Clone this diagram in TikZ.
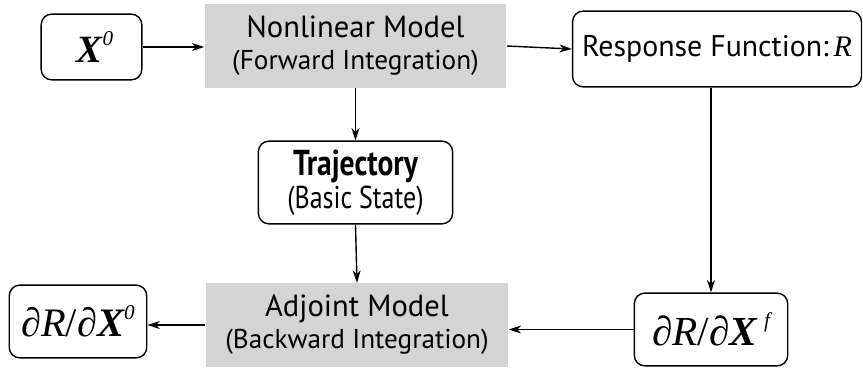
\documentclass[tikz,border=0pt]{standalone}
\usepackage{fontspec}
\usepackage{tikz}
\usetikzlibrary{arrows.meta}
\setmainfont{PT Sans}
\newfontfamily\narrowfont[FakeStretch=0.82]{PT Sans}
\newfontfamily\timesfont{Liberation Serif}
\definecolor{modelgray}{RGB}{212,212,212}
\newcommand{\bX}{{\bfseries\itshape X}}
\newcommand{\supit}[1]{\raisebox{0.42em}{\itshape\fontsize{12}{12}\selectfont #1}}
\tikzset{
	modelbox/.style={fill=modelgray, align=center, inner sep=0pt, font=\fontsize{17.4}{18.1}\selectfont},
	roundbox/.style={draw, line width=0.8pt, rounded corners=6pt, align=center, inner sep=0pt},
	flow/.style={-{Stealth[length=7pt, width=4.5pt, inset=2pt]}, line width=0.8pt},
}

\begin{document}
\begin{tikzpicture}[x=0.02cm, y=-0.02cm]
			\useasboundingbox (0,0) rectangle (863,369);
			\node[roundbox, minimum width=101*0.567pt, minimum height=66*0.567pt] (x0) at (91.5,47)
				{\timesfont\fontsize{22}{22}\selectfont\hspace{4pt}\bX\supit{0}};
			\node[modelbox, minimum width=303*0.567pt, minimum height=84*0.567pt] (nonlin) at (355.5,46)
				{Nonlinear Model\\ {\fontsize{15.5}{18.1}\selectfont (Forward Integration)}};
			\node[roundbox, minimum width=290*0.567pt, minimum height=76*0.567pt] (resp) at (717,49)
				{\fontsize{17}{17}\selectfont Response Function:\,{\timesfont\itshape R}};
			\node[roundbox, minimum width=195*0.567pt, minimum height=83*0.567pt, font=\narrowfont\fontsize{18}{18.7}\selectfont] (traj) at (355.5,182.5)
				{{\fontsize{20.5}{18.7}\selectfont\bfseries Trajectory}\\ (Basic State)};
			\node[modelbox, minimum width=304*0.567pt, minimum height=84*0.567pt] (adj) at (357,325)
				{Adjoint Model\\ {\fontsize{15.5}{18.1}\selectfont (Backward Integration)}};
			\node[roundbox, minimum width=138*0.567pt, minimum height=73*0.567pt] (dx0) at (78,321.5)
				{\timesfont\fontsize{23}{23}\selectfont ∂\textit{R}/∂\bX\supit{0}};
			\node[roundbox, minimum width=154*0.567pt, minimum height=73*0.567pt] (dxf) at (711,329.5)
				{\timesfont\fontsize{23.5}{23.5}\selectfont ∂\textit{R}/∂\bX\,\supit{f}};
			\draw[flow] (x0.east) -- (x0.east -| nonlin.west);
			\draw[flow] (nonlin.east) -- (resp.west);
			\draw[flow] (nonlin.south) -- (traj.north);
			\draw[flow] (traj.south) -- (adj.north);
			\draw[flow] (dxf.north |- resp.south) -- (dxf.north);
			\draw[flow] (dxf.west) -- (dxf.west -| adj.east);
			\draw[flow] (adj.west) -- (adj.west -| dx0.east);
		\end{tikzpicture}
\end{document}
